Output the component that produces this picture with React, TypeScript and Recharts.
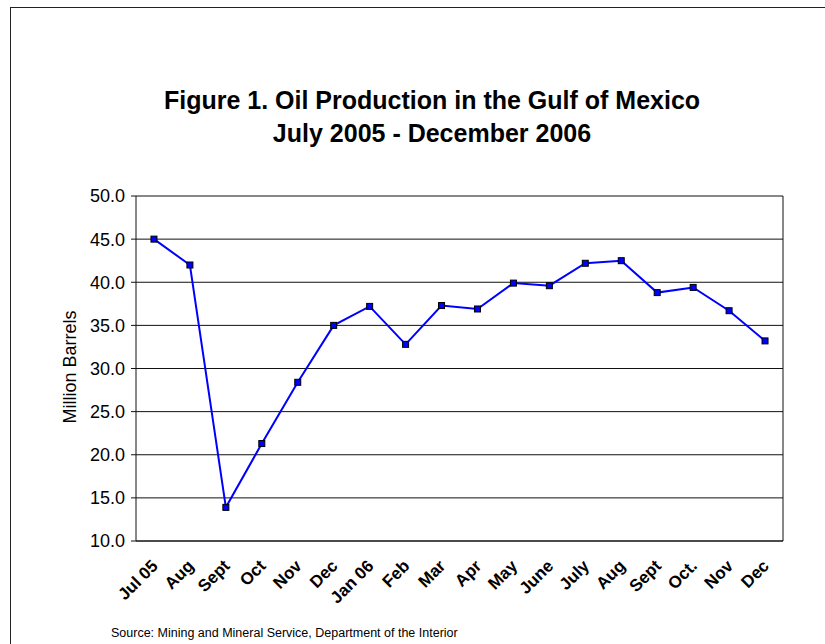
import * as React from 'react';
import { LineChart, Line, XAxis, YAxis, CartesianGrid } from 'recharts';

// Oil production, million barrels per month
const months = [
	'Jul 05', 'Aug', 'Sept', 'Oct', 'Nov', 'Dec', 'Jan 06', 'Feb', 'Mar',
	'Apr', 'May', 'June', 'July', 'Aug ', 'Sept ', 'Oct.', 'Nov ', 'Dec ',
];
const production = [
	45.0, 42.0, 13.9, 21.3, 28.4, 35.0, 37.2, 32.8, 37.3,
	36.9, 39.9, 39.6, 42.2, 42.5, 38.8, 39.4, 36.7, 33.2,
];
const yTicks = [10, 15, 20, 25, 30, 35, 40, 45, 50];

const titleLines = ['Figure 1. Oil Production in the Gulf of Mexico', 'July 2005 - December 2006'];
const yLabel = 'Million Barrels';
const source = 'Source: Mining and Mineral Service, Department of the Interior';

const data = months.map((month, i) => ({ month, value: production[i] }));

const FONT = "Arial, 'Liberation Sans', sans-serif";

function MonthTick(props) {
	const { x, payload } = props;
	return (
		<text
			transform={`translate(${x + 5},567) rotate(-45)`}
			textAnchor="end"
			fontFamily={FONT}
			fontWeight="bold"
			fontSize={17}
			fill="#000"
		>
			{payload.value.trim()}
		</text>
	);
}

function SquareDot(props) {
	const { cx, cy, index } = props;
	if (cx == null || cy == null) return null;
	return <rect key={index} x={cx - 3} y={cy - 3} width={6} height={6} fill="#0000ff" stroke="#000" strokeWidth={1} />;
}

export default function App() {
	return (
		<div style={{ position: 'absolute', left: 0, top: 0, width: 825, height: 644, overflow: 'hidden', background: '#fff' }}>
			<div style={{ position: 'absolute', left: 10, top: 7, width: 815, height: 637, borderLeft: '1px solid #222', borderTop: '1px solid #222', boxSizing: 'border-box' }} />
			<div style={{ position: 'absolute', left: 0, top: 0 }}>
				<LineChart
					width={825}
					height={644}
					data={data}
					margin={{ top: 196, right: 32, bottom: 63, left: 76 }}
				>
					<CartesianGrid vertical={false} stroke="#111" strokeWidth={1} />
					<XAxis
						dataKey="month"
						scale="band"
						interval={0}
						height={40}
						tickLine={false}
						axisLine={{ stroke: '#111', strokeWidth: 1 }}
						tick={<MonthTick />}
					/>
					<YAxis
						width={60}
						domain={[10, 50]}
						ticks={yTicks}
						tickFormatter={(v) => v.toFixed(1)}
						tickSize={5}
						tickMargin={6}
						axisLine={{ stroke: '#111' }}
						tickLine={{ stroke: '#111' }}
						tick={{ fill: '#000', fontSize: 18, fontFamily: FONT }}
					/>
					<YAxis
						yAxisId="frame"
						orientation="right"
						width={10}
						domain={[10, 50]}
						tick={false}
						tickLine={false}
						axisLine={{ stroke: '#111' }}
					/>
					<Line
						type="linear"
						dataKey="value"
						stroke="#0000ff"
						strokeWidth={2}
						dot={<SquareDot />}
						activeDot={false}
						isAnimationActive={false}
					/>
				</LineChart>
			</div>
			<svg width={825} height={644} style={{ position: 'absolute', left: 0, top: 0, pointerEvents: 'none' }}>
				<text x={432} y={109} textAnchor="middle" fontFamily={FONT} fontWeight="bold" fontSize={25} fill="#000">
					{titleLines[0]}
				</text>
				<text x={432} y={142} textAnchor="middle" fontFamily={FONT} fontWeight="bold" fontSize={25} fill="#000">
					{titleLines[1]}
				</text>
				<text transform="translate(76,367) rotate(-90)" textAnchor="middle" fontFamily={FONT} fontSize={18} fill="#000">
					{yLabel}
				</text>
				<text x={111} y={637} fontFamily={FONT} fontSize={12.5} fill="#000">
					{source}
				</text>
			</svg>
		</div>
	);
}
